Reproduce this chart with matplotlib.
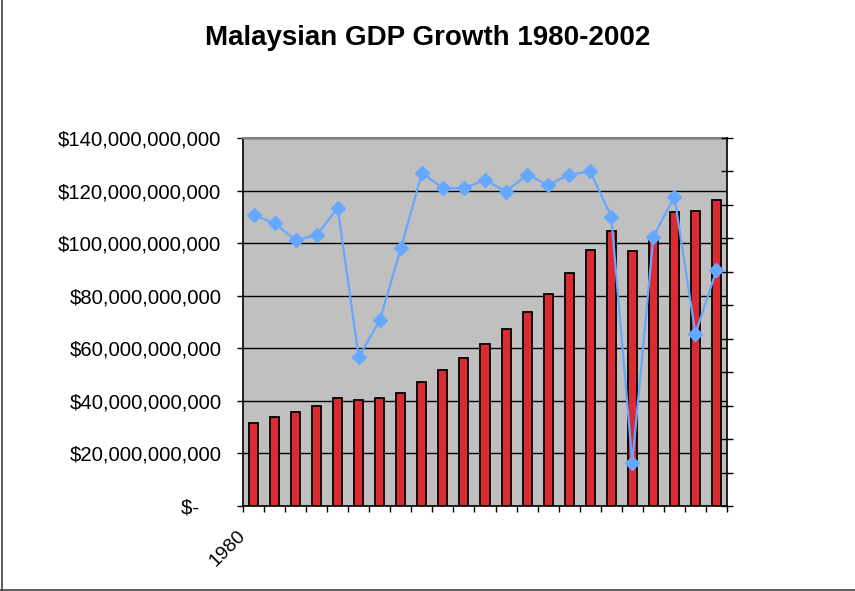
import matplotlib

matplotlib.use("Agg")
import matplotlib.pyplot as plt
from matplotlib.lines import Line2D
from matplotlib.ticker import FixedLocator, FuncFormatter
import numpy as np

plt.rcParams["font.family"] = ["Liberation Sans", "DejaVu Sans"]

years = list(range(1980, 2003))
gdp_billions = [
    31.6, 33.9, 35.6, 38.0, 41.0, 40.4, 41.0, 43.1, 47.3, 51.6, 56.3, 61.6,
    67.2, 73.8, 80.8, 88.8, 97.5, 104.7, 96.9, 102.5, 111.7, 112.1, 116.5,
]
growth_pct = [
    7.4, 6.9, 5.9, 6.2, 7.8, -1.1, 1.1, 5.4, 9.9, 9.0, 9.0, 9.5,
    8.8, 9.8, 9.2, 9.8, 10.0, 7.3, -7.4, 6.1, 8.5, 0.3, 4.1,
]
x_labels = ["1980"] + [""] * (len(years) - 1)

BAR_COLOR = "#DC2A33"
LINE_COLOR = "#66A8FF"


def _dollar(value, _pos) -> str:
    if value == 0:
        return "$-    "
    return f"${value:,.0f}"


def main() -> None:
    fig = plt.figure(figsize=(8.55, 5.91), dpi=100)
    ax = fig.add_axes([243 / 855, 85 / 591, 484 / 855, 368 / 591])
    ax.set_facecolor("#C0C0C0")

    x = np.arange(len(years))
    gdp = np.array(gdp_billions) * 1e9
    ax.bar(x, gdp, width=0.43, color=BAR_COLOR, edgecolor="black", linewidth=1.3, zorder=3)

    ax.set_xlim(-0.5, len(years) - 0.5)
    ax.set_ylim(0, 140e9)
    ax.set_yticks(np.arange(0, 140e9 + 1, 20e9))
    ax.yaxis.set_major_formatter(FuncFormatter(_dollar))
    ax.grid(axis="y", color="black", linewidth=1.0, zorder=1)
    ax.set_axisbelow(True)
    ax.tick_params(axis="y", direction="out", length=4.5, width=1, pad=11, labelsize=14.6)

    # category labels: only the first year is shown, sitting a little left of its bar
    ax.set_xticks(x, [""] * len(x))
    ax.tick_params(axis="x", which="major", length=0)
    for xi, label in zip(x, x_labels):
        if label:
            ax.annotate(label, xy=(xi, 0), xycoords=("data", "axes fraction"),
                        xytext=(-12.2, -15.2), textcoords="offset points",
                        rotation=45, ha="right", va="top", rotation_mode="anchor", fontsize=14)
    ax.xaxis.set_minor_locator(FixedLocator(np.arange(-0.5, len(years), 1.0)))
    ax.tick_params(axis="x", which="minor", direction="out", length=4.5, width=1)

    for side in ("left", "bottom"):
        ax.spines[side].set_color("black")
        ax.spines[side].set_linewidth(1.2)
    ax.spines["top"].set_color("#808080")
    ax.spines["top"].set_linewidth(1.5)
    ax.spines["right"].set_visible(False)

    ax2 = ax.twinx()
    ax2.plot(x, growth_pct, color=LINE_COLOR, linewidth=1.6, marker="D", markersize=7.5, zorder=5)
    ax2.set_ylim(-10, 12)
    ax2.set_yticks(np.arange(-10, 12.1, 2))
    ax2.set_yticklabels([])
    ax2.tick_params(axis="y", direction="inout", length=9, width=1)
    for side in ("top", "left", "bottom"):
        ax2.spines[side].set_visible(False)
    ax2.spines["right"].set_color("black")
    ax2.spines["right"].set_linewidth(1.2)

    fig.text(0.5, 1 - 38 / 591, "Malaysian GDP Growth 1980-2002", ha="center", va="center",
             fontsize=20, fontweight="bold")

    fig.add_artist(Line2D([1.5 / 855, 1.5 / 855], [1.5 / 591, 1.0], color="#404040", linewidth=1.2))
    fig.add_artist(Line2D([0.0, 1.0], [1.5 / 591, 1.5 / 591], color="#404040", linewidth=1.2))

    fig.savefig("out.png", dpi=100)
    plt.close(fig)


if __name__ == "__main__":
    main()
